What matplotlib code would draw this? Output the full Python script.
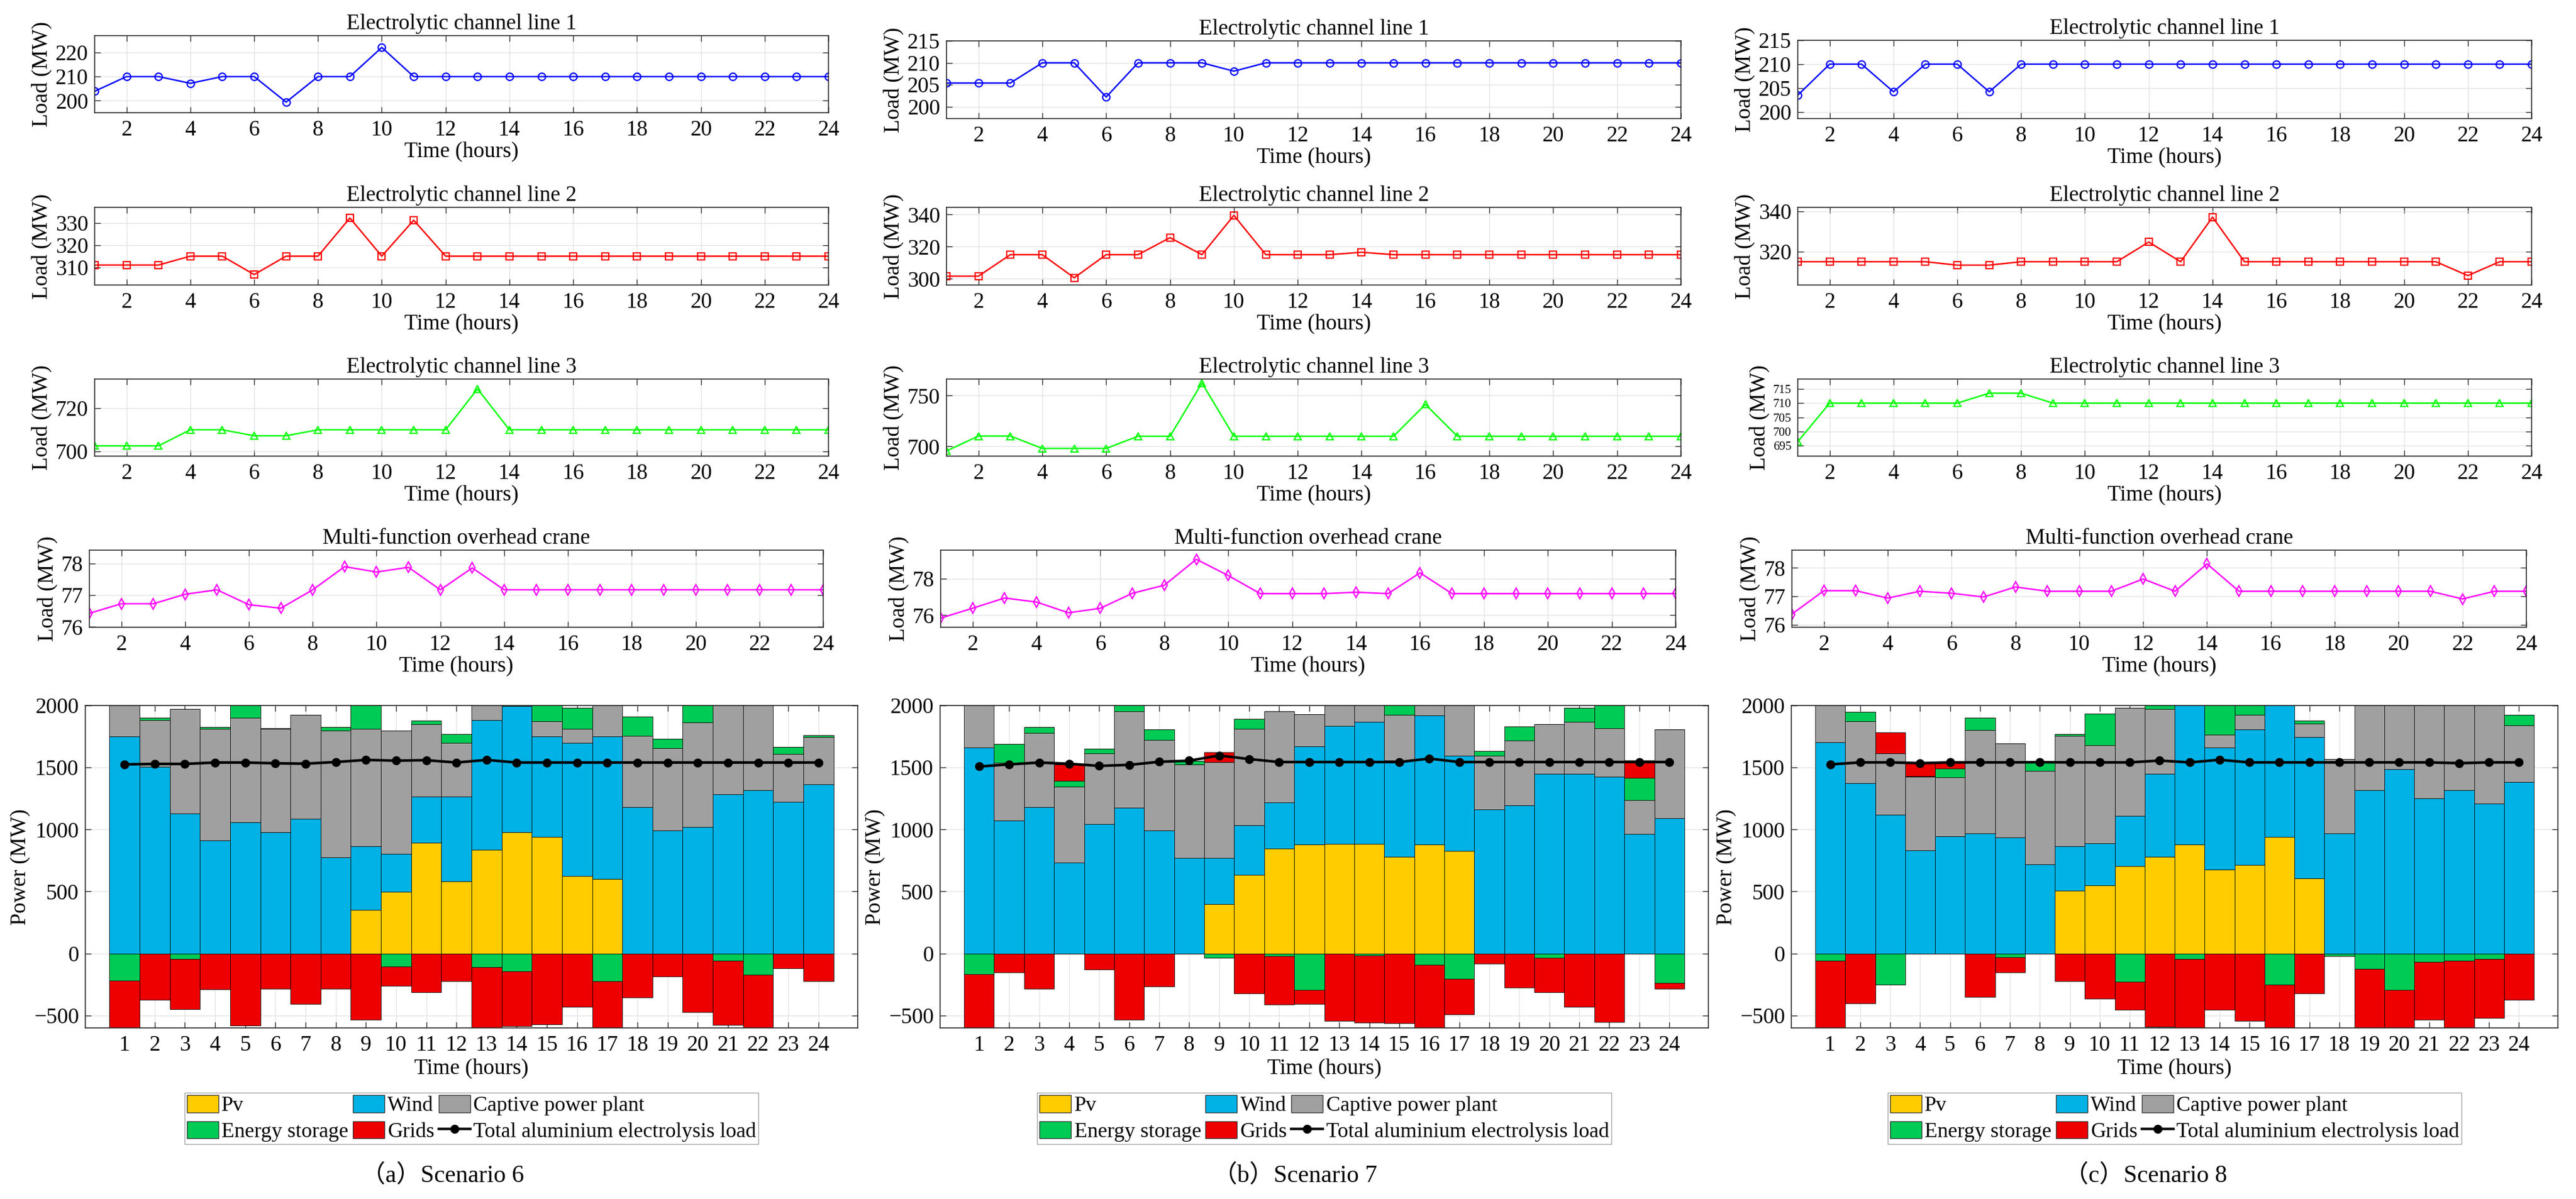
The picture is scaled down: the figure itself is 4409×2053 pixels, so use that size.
import numpy as np
import matplotlib
matplotlib.use("Agg")
import matplotlib.pyplot as plt
from matplotlib.patches import Patch
from matplotlib.lines import Line2D

plt.rcParams['font.family'] = ['Liberation Serif', 'Noto Sans CJK SC']
plt.rcParams['mathtext.fontset'] = 'stix'

# ---- data ---------------------------------------------------------------
hours = list(range(1, 25))

# scenario 6 : electrolysis lines and crane (MW)
line1_s6 = [203.9, 210, 210, 207.2, 210, 210, 199.4, 210, 210, 222.1, 210, 210,
            210, 210, 210, 210, 210, 210, 210, 210, 210, 210, 210, 210]
line2_s6 = [311, 311, 311, 315, 315, 306.7, 315, 315, 332.2, 315, 331.2, 315,
            315, 315, 315, 315, 315, 315, 315, 315, 315, 315, 315, 315]
line3_s6 = [702.5, 702.5, 702.5, 710, 710, 707.2, 707.2, 710, 710, 710, 710, 710,
            729.1, 710, 710, 710, 710, 710, 710, 710, 710, 710, 710, 710]
crane_s6 = [76.43, 76.73, 76.73, 77.03, 77.17, 76.70, 76.59, 77.17, 77.90, 77.73, 77.88, 77.17,
            77.86, 77.17, 77.17, 77.17, 77.17, 77.17, 77.17, 77.17, 77.17, 77.17, 77.17, 77.17]

# scenario 7
line1_s7 = [205.4, 205.4, 205.4, 210, 210, 202.2, 210, 210, 210, 208.1, 210, 210,
            210, 210, 210, 210, 210, 210, 210, 210, 210, 210, 210, 210]
line2_s7 = [301.6, 301.6, 315, 315, 300.6, 315, 315, 325.6, 315, 339.5, 315, 315,
            315, 316.5, 315, 315, 315, 315, 315, 315, 315, 315, 315, 315]
line3_s7 = [695.5, 710.2, 710.2, 698, 698, 698, 710, 710, 762.5, 710, 710, 710,
            710, 710, 710, 741.4, 710, 710, 710, 710, 710, 710, 710, 710]
crane_s7 = [75.84, 76.38, 76.94, 76.72, 76.13, 76.38, 77.20, 77.64, 79.06, 78.17, 77.18, 77.18,
            77.18, 77.26, 77.18, 78.32, 77.18, 77.18, 77.18, 77.18, 77.18, 77.18, 77.18, 77.18]

# scenario 8
line1_s8 = [203.5, 210, 210, 204.2, 210, 210, 204.2, 210, 210, 210, 210, 210,
            210, 210, 210, 210, 210, 210, 210, 210, 210, 210, 210, 210]
line2_s8 = [315, 315, 315, 315, 315, 313.3, 313.3, 315, 315, 315, 315, 324.8,
            315, 337.2, 315, 315, 315, 315, 315, 315, 315, 308.1, 315, 315]
line3_s8 = [696.4, 710, 710, 710, 710, 710, 713.5, 713.5, 710, 710, 710, 710,
            710, 710, 710, 710, 710, 710, 710, 710, 710, 710, 710, 710]
crane_s8 = [76.38, 77.20, 77.20, 76.94, 77.18, 77.11, 76.98, 77.33, 77.18, 77.18, 77.18, 77.61,
            77.18, 78.14, 77.18, 77.18, 77.18, 77.18, 77.18, 77.18, 77.18, 76.91, 77.18, 77.18]

# power balance (MW): pv, wind, captive plant, storage (+discharge/-charge), grid (+buy/-sell)
pv_s6 = [0, 0, 0, 0, 0, 0, 0, 0, 353, 498, 895, 584, 838, 979, 939, 624, 603, 0, 0, 0, 0, 0, 0, 0]
wind_s6 = [1750, 1504, 1130, 910, 1057, 977, 1088, 775, 510, 307, 370, 683,
           1046, 1015, 811, 1076, 1147, 1179, 990, 1021, 1282, 1319, 1225, 1366]
captive_s6 = [400, 376, 843, 901, 846, 834, 836, 1023, 948, 993, 586, 433,
              307, 134, 122, 113, 461, 575, 665, 842, 834, 843, 386, 380]
storage_s6 = [-220, 20, -42, 17, 219, 6, 0, 30, 284, -105, 25, 67,
              -110, -145, 239, 168, -221, 156, 76, 148, -57, -172, 53, 14]
grid_s6 = [-420, -372, -405, -288, -582, -284, -405, -284, -534, -158, -315, -225,
           -520, -443, -571, -429, -450, -355, -187, -471, -519, -450, -120, -225]
load_s6 = [1525, 1529, 1529, 1540, 1540, 1534, 1531, 1544, 1561, 1555, 1559, 1540,
           1561, 1540, 1540, 1540, 1540, 1540, 1540, 1540, 1540, 1540, 1540, 1540]

pv_s7 = [0, 0, 0, 0, 0, 0, 0, 0, 397, 633, 846, 880, 884, 884, 778, 880, 829, 0, 0, 0, 0, 0, 0, 0]
wind_s7 = [1660, 1070, 1181, 734, 1044, 1175, 994, 770, 373, 401, 371, 789,
           951, 983, 779, 1040, 764, 1160, 1196, 1451, 1447, 1426, 966, 1089]
captive_s7 = [467, 470, 597, 610, 572, 776, 730, 753, 774, 776, 734, 259,
              251, 234, 367, 261, 445, 437, 523, 399, 420, 390, 272, 719]
storage_s7 = [-169, 148, 47, 48, 34, 106, 84, 30, -36, 80, -21, -295,
              0, -15, 181, -89, -203, 34, 110, -36, 116, 279, 176, -236]
grid_s7 = [-450, -152, -283, 133, -131, -536, -264, 0, 80, -321, -390, -112,
           -542, -542, -561, -520, -291, -84, -274, -278, -430, -551, 143, -47]
load_s7 = [1508, 1525, 1540, 1530, 1513, 1521, 1546, 1555, 1597, 1568, 1544, 1544,
           1544, 1544, 1544, 1572, 1544, 1544, 1544, 1544, 1544, 1544, 1544, 1544]

pv_s8 = [0, 0, 0, 0, 0, 0, 0, 0, 509, 549, 707, 782, 879, 677, 715, 942, 604, 0, 0, 0, 0, 0, 0, 0]
wind_s8 = [1703, 1373, 1117, 831, 944, 967, 936, 721, 357, 338, 403, 669,
           1264, 982, 1094, 1251, 1142, 970, 1317, 1485, 1253, 1317, 1211, 1382]
captive_s8 = [439, 499, 496, 593, 476, 833, 757, 751, 890, 793, 869, 520,
              0, 105, 115, 0, 107, 597, 848, 680, 822, 835, 849, 458]
storage_s8 = [-57, 75, -252, 8, 69, 103, -32, 74, 13, 255, -229, 175,
              -42, 254, 162, -252, 25, -21, -124, -294, -67, -57, -42, 84]
grid_s8 = [-560, -400, 170, 109, 52, -351, -119, 0, -225, -366, -227, -590,
           -560, -456, -545, -400, -324, 0, -500, -330, -467, -560, -477, -372]
load_s8 = [1525, 1541, 1541, 1535, 1541, 1541, 1541, 1543, 1541, 1541, 1541, 1556,
           1541, 1562, 1541, 1541, 1541, 1541, 1541, 1541, 1541, 1535, 1541, 1541]

source_names = ['Pv', 'Wind', 'Captive power plant', 'Energy storage', 'Grids']
load_name = 'Total aluminium electrolysis load'
captions = ['（a）Scenario 6', '（b）Scenario 7', '（c）Scenario 8']

# axis ranges / ticks
line_ylims = [
    [(195, 227), (302, 337), (697.7, 733.7), (75.99, 78.42)],
    [(197.3, 215), (296.1, 344.5), (690.4, 766.4), (75.34, 79.56)],
    [(198.6, 215), (303.4, 342.1), (691.3, 718.5), (75.92, 78.62)],
]
line_yticks = [
    [[200, 210, 220], [310, 320, 330], [700, 720], [76, 77, 78]],
    [[200, 205, 210, 215], [300, 320, 340], [700, 750], [76, 78]],
    [[200, 205, 210, 215], [320, 340], [695, 700, 705, 710, 715], [76, 77, 78]],
]

scenarios = [
    dict(lines=[line1_s6, line2_s6, line3_s6, crane_s6],
         sources=[pv_s6, wind_s6, captive_s6, storage_s6, grid_s6], load=load_s6),
    dict(lines=[line1_s7, line2_s7, line3_s7, crane_s7],
         sources=[pv_s7, wind_s7, captive_s7, storage_s7, grid_s7], load=load_s7),
    dict(lines=[line1_s8, line2_s8, line3_s8, crane_s8],
         sources=[pv_s8, wind_s8, captive_s8, storage_s8, grid_s8], load=load_s8),
]

# ---- styling / layout ----------------------------------------------------
W, H = 4409, 2053
FS = 27
line_titles = ['Electrolytic channel line 1', 'Electrolytic channel line 2',
               'Electrolytic channel line 3', 'Multi-function overhead crane']
line_styles = [('#0000FF', 'o'), ('#FF0000', 's'), ('#00FF00', '^'), ('#FF00FF', 'd')]
source_colors = ['#FFCC00', '#00B2E6', '#A0A0A0', '#00CC55', '#EE0000']

# pixel boxes (left, right) and (top, bottom)
col_line_x = [(162, 1418), (1620, 2877), (3077, 4333)]
col_crane_x = [(153, 1409), (1610, 2868), (3067, 4324)]
col_bar_x = [(146, 1468), (1609, 2924), (3066, 4378)]
row1_y = [(61, 193), (70, 203), (69, 203)]
rows_y = [(355, 488), (649, 781), (942, 1074)]
bar_y = (1208, 1760)


def px_axes(fig, x, y):
    left, right = x
    top, bottom = y
    return fig.add_axes([left / W, 1 - bottom / H, (right - left) / W, (bottom - top) / H])


def style_axes(ax, xpad=9):
    ax.tick_params(direction='in', top=True, right=True, labelsize=FS, length=7,
                   width=1.0, color='#262626')
    ax.tick_params(axis='x', pad=xpad)
    ax.tick_params(axis='y', pad=8)
    for sp in ax.spines.values():
        sp.set_color('#262626')
        sp.set_linewidth(1.2)
    ax.grid(True, color='#E3E3E3', linewidth=1.0)
    ax.set_axisbelow(True)


fig = plt.figure(figsize=(W / 100, H / 100), dpi=100)

for c, sc in enumerate(scenarios):
    # four load panels
    for r in range(4):
        ys = row1_y[c] if r == 0 else rows_y[r - 1]
        xs = col_crane_x[c] if r == 3 else col_line_x[c]
        ax = px_axes(fig, xs, ys)
        color, mk = line_styles[r]
        ax.plot(hours, sc['lines'][r], color=color, marker=mk, lw=1.8,
                markersize=9, markerfacecolor='none', markeredgewidth=1.6)
        ax.set_xlim(1, 24)
        ax.set_xticks(range(2, 25, 2))
        ax.set_ylim(*line_ylims[c][r])
        ax.set_yticks(line_yticks[c][r])
        ax.set_title(line_titles[r], fontsize=FS, pad=8)
        ax.set_xlabel('Time (hours)', fontsize=FS, labelpad=2)
        ax.set_ylabel('Load (MW)', fontsize=FS, labelpad=4)
        style_axes(ax)
        if len(line_yticks[c][r]) > 4:
            # densely packed ticks: shrink so the labels do not collide
            ax.tick_params(axis='y', labelsize=15)

    # stacked power balance bars
    ax = px_axes(fig, col_bar_x[c], bar_y)
    x = np.array(hours)
    pos_base = np.zeros(24)
    neg_base = np.zeros(24)
    for vals, col in zip(sc['sources'], source_colors):
        v = np.array(vals, dtype=float)
        pos = np.where(v > 0, v, 0)
        neg = np.where(v < 0, v, 0)
        ax.bar(x, pos, width=1.0, bottom=pos_base, color=col, edgecolor='black', linewidth=0.6)
        ax.bar(x, neg, width=1.0, bottom=neg_base, color=col, edgecolor='black', linewidth=0.6)
        pos_base += pos
        neg_base += neg
    ax.plot(x, sc['load'], color='black', lw=3.2, marker='o', markersize=10)
    ax.set_xlim(-0.3, 25.3)
    ax.set_ylim(-600, 2000)
    ax.set_xticks(hours)
    ax.set_yticks([-500, 0, 500, 1000, 1500, 2000])
    ax.set_xlabel('Time (hours)', fontsize=FS, labelpad=4)
    ax.set_ylabel('Power (MW)', fontsize=FS, labelpad=4)
    style_axes(ax)

    # legend under each column
    handles = [Patch(facecolor=col, edgecolor='#333333', linewidth=1.0) for col in source_colors]
    load_h = Line2D([0], [0], color='black', lw=3.2, marker='o', markersize=10)
    order = [handles[0], handles[3], handles[1], handles[4], handles[2], load_h]
    labels = [source_names[0], source_names[3], source_names[1], source_names[4],
              source_names[2], load_name]
    cx = (col_bar_x[c][0] + col_bar_x[c][1]) / 2
    fig.legend(order, labels, ncol=3, loc='center', bbox_to_anchor=(cx / W, 1 - 1915 / H),
               fontsize=26, frameon=True, fancybox=False, edgecolor='#A0A0A0',
               framealpha=1, handlelength=1.5, handleheight=0.9, handletextpad=0.15,
               columnspacing=0.2, borderpad=0.1, labelspacing=0.25, borderaxespad=0)

    fig.text((cx - 50) / W, 1 - 2013 / H, captions[c], fontsize=30, ha='center', va='center')

fig.savefig('out.png', dpi=100)
